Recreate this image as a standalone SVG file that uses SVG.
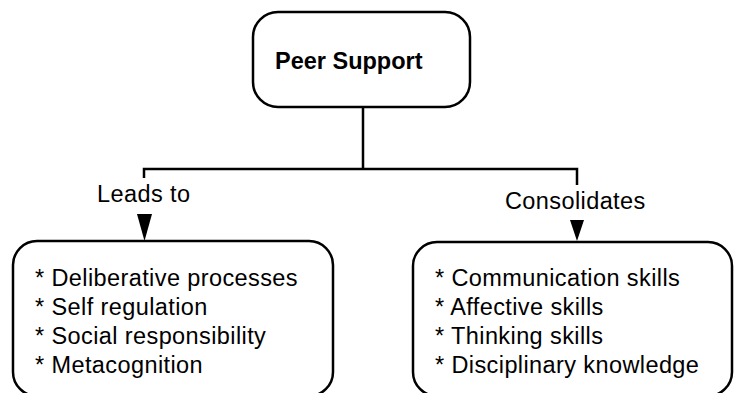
<svg xmlns="http://www.w3.org/2000/svg" width="734" height="393" viewBox="0 0 734 393">
<style>
.box{fill:#fff;stroke:#000;stroke-width:2.5}
.ln{fill:none;stroke:#000;stroke-width:2.5}
.t{font-family:"Liberation Sans",Arial,sans-serif;font-size:23.5px;fill:#000;letter-spacing:0.4px}
.b{font-family:"Liberation Sans",Arial,sans-serif;font-size:23.5px;font-weight:bold;fill:#000}
</style>
<rect width="734" height="393" fill="#fff"/>
<g id="connectors">
<path class="ln" d="M363,107 V169 M144,178 V169 H577 V185"/>
<polygon points="137,214 152,214 144.5,241" fill="#000"/>
<polygon points="570,220 584,220 577,241" fill="#000"/>
<text class="t" x="97" y="202">Leads to</text>
<text class="t" x="505" y="209">Consolidates</text>
</g>
<g id="peer-support">
<rect class="box" x="253" y="12" width="217" height="95" rx="25" ry="25"/>
<text class="b" x="275" y="69">Peer Support</text>
</g>
<g id="leads-to-box">
<rect class="box" x="13" y="241" width="320" height="155" rx="24" ry="24"/>
<text class="t" x="35" y="286">* Deliberative processes</text>
<text class="t" x="35" y="315">* Self regulation</text>
<text class="t" x="35" y="344">* Social responsibility</text>
<text class="t" x="35" y="373">* Metacognition</text>
</g>
<g id="consolidates-box">
<rect class="box" x="413" y="242" width="319" height="154" rx="24" ry="24"/>
<text class="t" x="435" y="286">* Communication skills</text>
<text class="t" x="435" y="315">* Affective skills</text>
<text class="t" x="435" y="344">* Thinking skills</text>
<text class="t" x="435" y="373">* Disciplinary knowledge</text>
</g>
</svg>
